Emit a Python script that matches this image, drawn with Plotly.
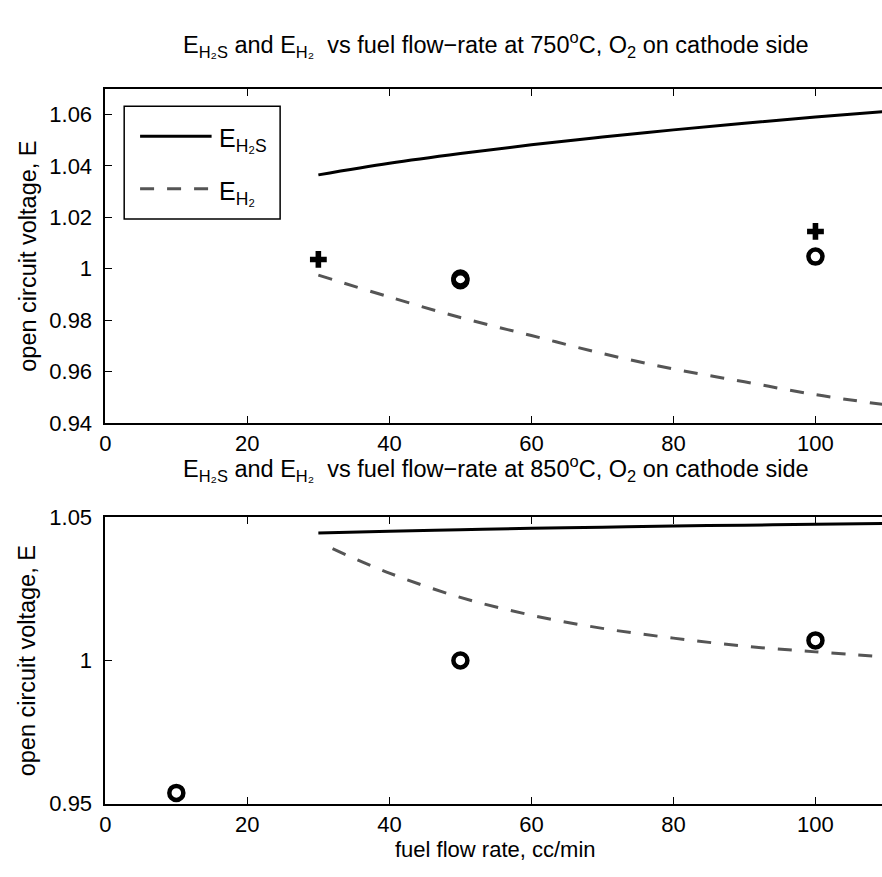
import plotly.graph_objects as go

# Fuel flow rate (cc/min) for the modelled curves
flow_750 = [30, 40, 50, 60, 70, 80, 90, 100, 110]
e_h2s_750 = [1.0365, 1.0410, 1.0448, 1.0482, 1.0512, 1.0540, 1.0566, 1.0590, 1.0612]
e_h2_750 = [0.9975, 0.9890, 0.9810, 0.9740, 0.9670, 0.9610, 0.9560, 0.9510, 0.9470]

flow_h2s_850 = [30, 40, 50, 60, 70, 80, 90, 100, 110]
e_h2s_850 = [1.0445, 1.0451, 1.0456, 1.0461, 1.0465, 1.0469, 1.0472, 1.0475, 1.0478]
flow_h2_850 = [32, 40, 50, 60, 70, 80, 90, 100, 110]
e_h2_850 = [1.0390, 1.0305, 1.0220, 1.0158, 1.0112, 1.0078, 1.0050, 1.0030, 1.0012]

# Measured open circuit voltages
cross_flow_750 = [30, 100]
cross_e_750 = [1.0036, 1.0145]
circ_flow_750 = [50, 50, 100]
circ_e_750 = [0.9962, 0.9955, 1.0047]
circ_flow_850 = [10, 50, 100]
circ_e_850 = [0.9538, 1.0000, 1.0070]

x_ticks = [0, 20, 40, 60, 80, 100]
y_ticks_750 = [0.94, 0.96, 0.98, 1.00, 1.02, 1.04, 1.06]
y_text_750 = ["0.94", "0.96", "0.98", "1", "1.02", "1.04", "1.06"]
y_ticks_850 = [0.95, 1.00, 1.05]
y_text_850 = ["0.95", "1", "1.05"]

W, H = 882, 877
FONT = "Liberation Sans, Arial, sans-serif"
DASH = "14px,13px"
GREY = "#555555"

fig = go.Figure()

# 750 C panel
fig.add_trace(go.Scatter(x=flow_750, y=e_h2s_750, mode="lines", line=dict(color="black", width=3, shape="spline"),
                         xaxis="x", yaxis="y", showlegend=False))
fig.add_trace(go.Scatter(x=flow_750, y=e_h2_750, mode="lines", line=dict(color=GREY, width=3, dash=DASH, shape="spline"),
                         xaxis="x", yaxis="y", showlegend=False))
fig.add_trace(go.Scatter(x=cross_flow_750, y=cross_e_750, mode="markers",
                         marker=dict(symbol="cross", size=14, color="black", line=dict(width=0)),
                         xaxis="x", yaxis="y", showlegend=False))
fig.add_trace(go.Scatter(x=circ_flow_750, y=circ_e_750, mode="markers",
                         marker=dict(symbol="circle-open", size=14, color="black", line=dict(width=4.5, color="black")),
                         xaxis="x", yaxis="y", showlegend=False))

# 850 C panel
fig.add_trace(go.Scatter(x=flow_h2s_850, y=e_h2s_850, mode="lines", line=dict(color="black", width=3, shape="spline"),
                         xaxis="x2", yaxis="y2", showlegend=False))
fig.add_trace(go.Scatter(x=flow_h2_850, y=e_h2_850, mode="lines", line=dict(color=GREY, width=3, dash=DASH, shape="spline"),
                         xaxis="x2", yaxis="y2", showlegend=False))
fig.add_trace(go.Scatter(x=circ_flow_850, y=circ_e_850, mode="markers",
                         marker=dict(symbol="circle-open", size=14, color="black", line=dict(width=4.5, color="black")),
                         xaxis="x2", yaxis="y2", showlegend=False))

L, R = 100, 882
top1, bot1 = 79, 423
top2, bot2 = 520, 815
x_max = 109.37


def fy(px):
    return 1 - px / H


axis_common = dict(showline=True, linecolor="black", linewidth=1.6, ticks="inside", ticklen=7,
                   tickwidth=1.2, tickcolor="black", showgrid=False, zeroline=False,
                   tickfont=dict(family=FONT, size=22, color="black"))

fig.update_layout(
    width=W, height=H, margin=dict(l=0, r=0, t=0, b=0),
    paper_bgcolor="white", plot_bgcolor="white",
    xaxis=dict(domain=[L / W, R / W], range=[0, x_max], tickvals=x_ticks, anchor="y",
               mirror="ticks", ticklabelstandoff=0, **axis_common),
    yaxis=dict(domain=[fy(bot1), fy(top1)], range=[0.94, 1.07], tickvals=y_ticks_750, ticktext=y_text_750,
               anchor="x", mirror=False, ticklabelstandoff=7, **axis_common),
    xaxis2=dict(domain=[L / W, R / W], range=[0, x_max], tickvals=x_ticks, anchor="y2",
                mirror="ticks", ticklabelstandoff=0, **axis_common),
    yaxis2=dict(domain=[fy(bot2), fy(top2)], range=[0.95, 1.05], tickvals=y_ticks_850, ticktext=y_text_850,
                anchor="x2", mirror=False, ticklabelstandoff=7, **axis_common),
)

title_font = dict(family=FONT, size=23.5, color="black")
E_H2S = "E<sub>H\u2082S</sub>"
E_H2 = "E<sub>H\u2082</sub>"
t_750 = E_H2S + " and " + E_H2 + "  vs fuel flow\u2212rate at 750<sup>o</sup>C, O<sub>2</sub> on cathode side"
t_850 = E_H2S + " and " + E_H2 + "  vs fuel flow\u2212rate at 850<sup>o</sup>C, O<sub>2</sub> on cathode side"
cx = 493 / W
fig.add_annotation(text=t_750, x=cx, y=fy(33), xref="paper", yref="paper", showarrow=False,
                   xanchor="center", yanchor="middle", font=title_font)
fig.add_annotation(text=t_850, x=cx, y=fy(470), xref="paper", yref="paper", showarrow=False,
                   xanchor="center", yanchor="middle", font=title_font)
fig.add_annotation(text="fuel flow rate, cc/min", x=cx, y=fy(862), xref="paper", yref="paper", showarrow=False,
                   xanchor="center", yanchor="middle", font=dict(family=FONT, size=22, color="black"))
for yc in [(top1 + bot1) / 2, (top2 + bot2) / 2]:
    fig.add_annotation(text="open circuit voltage, E", x=22 / W, y=fy(yc), xref="paper", yref="paper",
                       showarrow=False, textangle=-90, xanchor="center", yanchor="middle", font=title_font)

# Legend box for the 750 C panel
fig.add_shape(type="rect", x0=119 / W, x1=276 / W, y0=fy(213), y1=fy(97), xref="paper", yref="paper",
              line=dict(color="black", width=1.5), fillcolor="white")
fig.add_shape(type="line", x0=135 / W, x1=207 / W, y0=fy(128), y1=fy(128), xref="paper", yref="paper",
              line=dict(color="black", width=3))
fig.add_shape(type="line", x0=135 / W, x1=207 / W, y0=fy(182), y1=fy(182), xref="paper", yref="paper",
              line=dict(color=GREY, width=3, dash=DASH))
leg_font = dict(family=FONT, size=25, color="black")
fig.add_annotation(text=E_H2S, x=212 / W, y=fy(132), xref="paper", yref="paper",
                   showarrow=False, xanchor="left", yanchor="middle", font=leg_font)
fig.add_annotation(text=E_H2, x=212 / W, y=fy(186), xref="paper", yref="paper",
                   showarrow=False, xanchor="left", yanchor="middle", font=leg_font)

fig.write_html("out.html")
